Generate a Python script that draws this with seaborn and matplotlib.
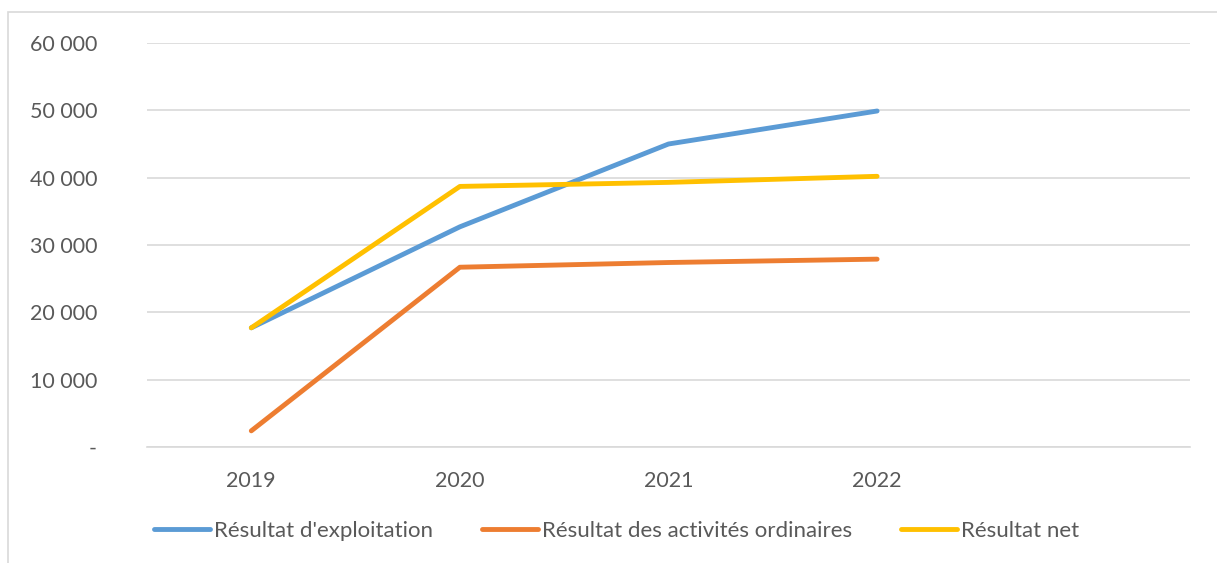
import matplotlib
matplotlib.use("Agg")
import matplotlib.pyplot as plt
import matplotlib.ticker as mticker
from matplotlib.patches import Rectangle
from matplotlib.lines import Line2D
import seaborn as sns
import pandas as pd

years = [2019, 2020, 2021, 2022]
exploitation = [17700, 32700, 45000, 49900]
ordinaires = [2400, 26700, 27400, 27900]
net = [17700, 38700, 39300, 40200]
series_names = ["Résultat d'exploitation", "Résultat des activités ordinaires", "Résultat net"]
colors = ["#5B9BD5", "#ED7D31", "#FFC000"]

rows = []
for name, vals in zip(series_names, [exploitation, ordinaires, net]):
    for y, v in zip(years, vals):
        rows.append({"year": y, "value": v, "serie": name})
df = pd.DataFrame(rows)

sns.set_theme(style="white")
plt.rcParams['font.family'] = ['Lato', 'DejaVu Sans']

W, H = 1217, 563
fig = plt.figure(figsize=(W / 100, H / 100), dpi=100)
ax = fig.add_axes([147 / W, (H - 447) / H, (1190 - 147) / W, (447 - 43) / H])

fig.patches.append(Rectangle((8 / W, -0.01), 1.0, (H - 12) / H + 0.01, transform=fig.transFigure,
                             fill=False, edgecolor="#d9d9d9", linewidth=1.2))

LW = 3.5
sns.lineplot(data=df, x="year", y="value", hue="serie", palette=colors, linewidth=LW,
             ax=ax, legend=False, solid_capstyle="round", solid_joinstyle="round")

ax.set_xlim(2018.5, 2023.5)
ax.set_ylim(0, 60000)
ax.set_xticks(years)
ax.set_xticklabels([str(y) for y in years])
ax.set_yticks(range(0, 60001, 10000))

def fmt(v, pos):
    if v == 0:
        return "-"
    return f"{int(v):,}".replace(",", " ")
ax.yaxis.set_major_formatter(mticker.FuncFormatter(fmt))

ax.grid(axis="y", color="#d9d9d9", linewidth=1.2)
ax.set_axisbelow(True)
for s in ["top", "right", "left"]:
    ax.spines[s].set_visible(False)
ax.spines["bottom"].set_color("#d9d9d9")
ax.spines["bottom"].set_linewidth(1.2)
ax.tick_params(axis="both", length=0, labelsize=15.5, colors="#595959")
ax.tick_params(axis="y", pad=36)
ax.tick_params(axis="x", pad=17)
ax.set_xlabel("")
ax.set_ylabel("")

handles = [Line2D([0], [0], color=c, linewidth=LW, solid_capstyle="round") for c in colors]
leg = fig.legend(handles, series_names, loc="center", bbox_to_anchor=(617 / W, (H - 531) / H),
                 ncol=3, frameon=False, fontsize=16, handlelength=2.5, handletextpad=0.2,
                 columnspacing=2.2)
for t in leg.get_texts():
    t.set_color("#595959")

fig.savefig("out.png", dpi=100, facecolor="white")
